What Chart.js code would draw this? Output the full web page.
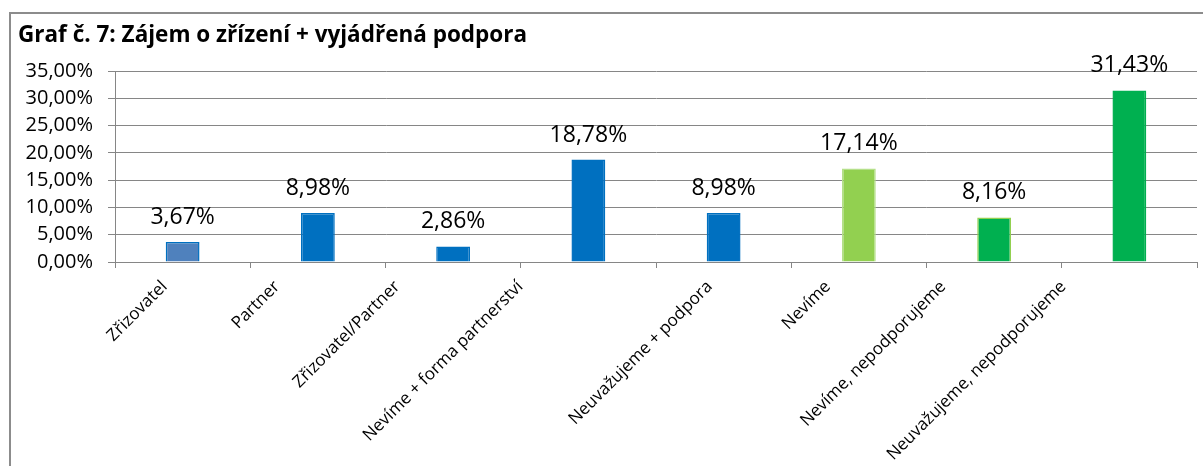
<!DOCTYPE html>
<html>
<head>
<meta charset="utf-8">
<script src="https://cdn.jsdelivr.net/npm/chart.js@4/dist/chart.umd.min.js"></script>
<style>
  html, body { margin: 0; padding: 0; background: #fff; overflow: hidden; }
  #wrap { position: relative; width: 1203px; height: 466px; }
  #frame { position: absolute; left: 9px; top: 12px; width: 1300px; height: 600px;
           border-left: 2px solid #8c8c8c; border-top: 2px solid #8c8c8c; }
  #mycanvas { position: absolute; left: 0; top: 0; }
</style>
</head>
<body>
<div id="wrap">
  <div id="frame"></div>
  <canvas id="mycanvas" width="1203" height="466"></canvas>
</div>
<script>
var title = "Graf č. 7: Zájem o zřízení + vyjádřená podpora";
var categories = ["Zřizovatel", "Partner", "Zřizovatel/Partner", "Nevíme + forma partnerství",
  "Neuvažujeme + podpora", "Nevíme", "Nevíme, nepodporujeme", "Neuvažujeme, nepodporujeme"];
var values = [3.67, 8.98, 2.86, 18.78, 8.98, 17.14, 8.16, 31.43];
var fillColors = ["#4f81bd", "#0070c0", "#0070c0", "#0070c0", "#0070c0", "#92d050", "#00b050", "#00b050"];
var edgeColors = ["#0070c0", "#0070c0", "#0070c0", "#0070c0", "#0070c0", "#b5e08a", "#92d050", "#00b050"];
// how far left of the tick each rotated label ends (Excel places them unevenly)
var labelShift = [24, 47, 62, 74, 20, 37, 57, 72];

function pct(v) {
  return v.toFixed(2).replace(".", ",") + "%";
}

// title, value labels and rotated category labels
var extras = {
  id: "extras",
  afterDatasetsDraw: function(chart) {
    var ctx = chart.ctx;
    ctx.save();
    ctx.fillStyle = "#000";
    ctx.font = "bold 22.5px 'Open Sans'";
    ctx.textAlign = "left";
    ctx.textBaseline = "alphabetic";
    ctx.fillText(title, 18, 42);

    ctx.font = "23px 'Open Sans'";
    ctx.textAlign = "center";
    var meta = chart.getDatasetMeta(0);
    for (var i in meta.data) {
      var bar = meta.data[i];
      ctx.fillText(pct(values[i]), bar.x, bar.y - 18);
    }

    var xs = chart.scales.x;
    ctx.font = "17px 'Open Sans'";
    ctx.textAlign = "right";
    ctx.textBaseline = "top";
    for (var j = 0; j < categories.length; j++) {
      ctx.save();
      ctx.translate(xs.getPixelForValue(j) - labelShift[j], xs.top + 16);
      ctx.rotate(-Math.PI / 4);
      ctx.fillText(categories[j], 0, 0);
      ctx.restore();
    }
    ctx.restore();
  }
};

var chartdata = {
  labels: categories,
  datasets: [
    {
      label: "Zájem",
      backgroundColor: fillColors,
      borderColor: edgeColors,
      borderWidth: 1.5,
      borderSkipped: "bottom",
      categoryPercentage: 1,
      barPercentage: 0.25,
      data: values
    }
  ]
};

var ctx = document.getElementById("mycanvas");

var barGraph = new Chart(ctx, {
  type: "bar",
  data: chartdata,
  plugins: [extras],
  options: {
    responsive: false,
    animation: false,
    layout: { padding: { top: 71, right: 6, left: 0, bottom: 0 } },
    plugins: {
      legend: { display: false },
      tooltip: { enabled: false }
    },
    scales: {
      x: {
        afterFit: function(scale) { scale.height = 204; },
        grid: { display: true, drawOnChartArea: false, color: "#868686", tickLength: 6, offset: true },
        border: { color: "#868686", width: 1 },
        ticks: { display: false }
      },
      y: {
        min: 0,
        max: 35,
        afterFit: function(scale) { scale.width = 115; },
        grid: { color: "#868686", tickLength: 7, lineWidth: 1 },
        border: { color: "#868686", width: 1 },
        ticks: {
          stepSize: 5,
          color: "#000",
          font: { family: "'Open Sans'", size: 20 },
          padding: 15,
          callback: function(v) { return pct(v); }
        }
      }
    }
  }
});
</script>
</body>
</html>
